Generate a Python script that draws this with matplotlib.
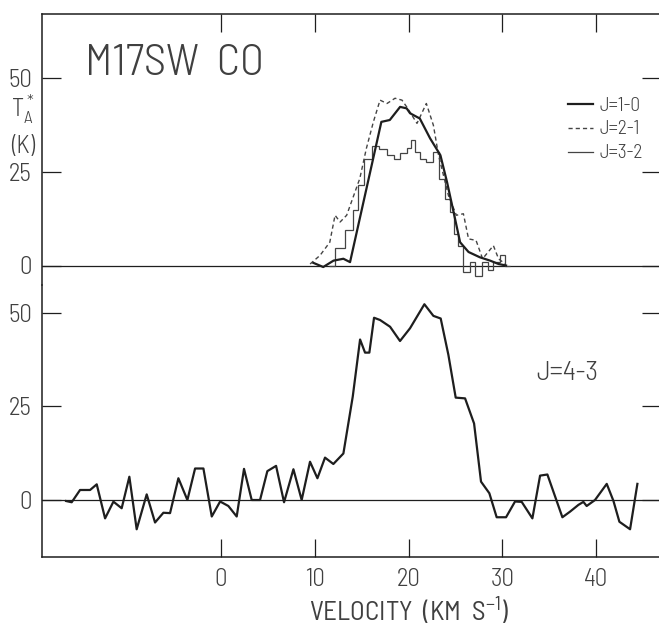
import matplotlib
matplotlib.use("Agg")
import matplotlib.pyplot as plt

# ---------------- data ----------------
v10 = [9.85, 10.9, 12.0, 13.05, 13.76, 17.1, 18.0, 19.1, 19.8, 20.16, 21.2, 22.3, 23.4, 24.1, 24.8, 25.5, 26.4, 27.6, 28.7, 29.6, 30.4]
t10 = [0.7, -0.4, 1.3, 1.8, 0.9, 38.3, 38.8, 42.3, 41.9, 40.6, 39.2, 33.9, 29.4, 22.3, 14.3, 6.2, 3.6, 2.2, 1.3, 0.4, 0.0]

v21 = [9.5, 10.56, 11.6, 12.16, 12.7, 13.4, 14.1, 14.8, 15.5, 16.25, 16.96, 17.7, 18.56, 19.3, 19.8, 20.9, 21.9, 22.65, 23.2, 24.25, 25.1, 25.85, 26.4, 27.2, 27.9, 29.05, 29.6, 30.3]
t21 = [0.4, 2.7, 6.2, 13.4, 11.6, 13.4, 18.3, 23.2, 31.2, 38.3, 44.1, 43.2, 44.6, 44.1, 42.3, 37.9, 43.2, 37.4, 29.4, 18.7, 13.4, 13.8, 7.1, 6.7, 1.8, 5.3, 1.8, 0.4]

e32 = [11.5, 12.2, 13.2, 14.1, 14.65, 15.2, 16.05, 16.9, 17.7, 18.4, 19.1, 19.8, 20.3, 20.7, 21.2, 21.9, 22.65, 23.2, 23.9, 24.4, 24.8, 25.3, 25.85, 26.56, 27.1, 27.8, 28.5, 29.05, 29.76, 30.3, 30.8]
t32 = [0.0, 4.6, 9.5, 14.9, 21.4, 28.5, 31.9, 31.2, 29.4, 28.5, 29.9, 31.4, 33.4, 30.3, 28.5, 27.6, 30.3, 23.2, 17.8, 14.3, 8.5, 5.3, -1.8, 0.9, -2.7, 0.9, -1.3, 0.9, 2.7, 0.0]

v43 = [-16.53, -15.93, -15.04, -13.97, -13.26, -12.37, -11.48, -10.6, -9.78, -9.0, -7.93, -7.04, -6.15, -5.44,
       -4.55, -3.59, -2.77, -1.88, -0.99, -0.1, 0.78, 1.67, 2.45, 3.27, 4.16, 4.94, 5.87, 6.72, 7.72, 8.6,
       9.49, 10.28, 11.09, 11.98, 13.05, 14.05, 14.83, 15.36, 15.82, 16.32, 16.96, 18.03, 19.09, 20.16,
       21.69, 22.65, 23.43, 24.25, 25.03, 26.03, 26.99, 27.73, 28.62, 29.4, 30.4, 31.36, 32.07, 33.21,
       34.03, 34.81, 36.41, 37.23, 38.12, 38.65, 39.0, 39.89, 41.14, 41.85, 42.49, 43.63, 44.41]
t43 = [-0.27, -0.6, 2.67, 2.67, 4.18, -4.9, -0.44, -2.2, 6.2, -7.8, 1.5, -6.0, -3.4, -3.5,
       5.8, 0.0, 8.4, 8.4, -4.4, -0.4, -1.6, -4.4, 8.3, 0.0, 0.0, 7.7, 9.1, -0.6, 8.2, 0.0,
       10.2, 5.8, 11.3, 9.6, 12.4, 27.6, 42.8, 39.3, 39.3, 48.6, 48.0, 46.2, 42.4, 45.8,
       52.2, 49.1, 48.4, 38.7, 27.3, 27.1, 20.4, 4.9, 1.8, -4.6, -4.6, -0.4, -0.5, -4.9,
       6.5, 6.8, -4.6, -3.1, -1.3, -0.5, -1.6, 0.0, 4.3, -0.2, -5.8, -7.8, 4.3]

xticks = [0, 10, 20, 30, 40]
yticks = [0, 25, 50]
legend_labels = ["J=1-0", "J=2-1", "J=3-2"]

# ---------------- style ----------------
FAM = ["Barlow Semi Condensed", "Barlow Condensed", "DejaVu Sans"]
plt.rcParams["font.family"] = FAM
plt.rcParams["font.weight"] = 300
plt.rcParams["mathtext.default"] = "regular"
TXT = "#404040"
LN = "#1e1e1e"

W, H = 659, 627
fig = plt.figure(figsize=(W / 100, H / 100), dpi=100)

def fx(px):
    return px / W

def fy(py):
    return 1 - py / H

left_px, right_px = 41.7, 661
split_px, top_px, bot_px = 285, 14, 556.7
axT = fig.add_axes([fx(left_px), fy(split_px), fx(right_px - left_px), (split_px - top_px) / H])
axB = fig.add_axes([fx(left_px), fy(bot_px), fx(right_px - left_px), (bot_px - split_px) / H])

xl = (-19.13, -19.13 + (right_px - left_px) / 9.375)
axT.set_xlim(xl)
axB.set_xlim(xl)
axT.set_ylim(-(split_px - 265.5) / 3.75, (265.5 - top_px) / 3.75)
axB.set_ylim(-(bot_px - 500) / 3.75, (500 - split_px) / 3.75)

for ax in (axT, axB):
    ax.set_facecolor("none")
    for s in ax.spines.values():
        s.set_linewidth(1.1)
        s.set_color(LN)
    ax.spines["right"].set_visible(False)
    ax.axhline(0, color=LN, lw=0.9, zorder=1)
    ax.set_yticks(yticks)
    ax.set_yticklabels([str(t) for t in yticks], fontsize=18, color=TXT)
    ax.tick_params(axis="y", which="both", direction="in", length=14, width=0.9, color=LN,
                   left=True, right=True, pad=7)
    ax.set_xticks(xticks)

axT.spines["bottom"].set_visible(False)
axB.spines["top"].set_visible(False)
axT.tick_params(axis="x", direction="in", length=13, width=0.9, color=LN, top=True, bottom=False,
                labeltop=False, labelbottom=False)
axB.tick_params(axis="x", direction="in", length=13, width=0.9, color=LN, top=False, bottom=True,
                labelbottom=True, pad=8, labelsize=18, labelcolor=TXT)
axB.set_xticklabels([str(t) for t in xticks])

# ---------------- top panel ----------------
axT.plot(v10, t10, color=LN, lw=1.6, label=legend_labels[0], zorder=4)
axT.plot(v21, t21, color="#444444", lw=1.0, ls=(0, (3, 2.2)), label=legend_labels[1], zorder=3)
axT.stairs(t32, e32, color="#444444", lw=0.9, label=legend_labels[2], baseline=None, zorder=3)

leg = axT.legend(loc="upper right", bbox_to_anchor=((643 - left_px) / (right_px - left_px), 0.695),
                 frameon=False, fontsize=14, handlelength=1.3, handletextpad=0.35, labelspacing=0.3,
                 borderaxespad=0, borderpad=0)
for t in leg.get_texts():
    t.set_color(TXT)

axT.text((85 - left_px) / (right_px - left_px), (split_px - 64) / (split_px - top_px), "M17SW  CO",
         transform=axT.transAxes, fontsize=32, color=TXT, ha="left", va="center")

fig.text(fx(23), fy(109), r"$\mathregular{T_A^*}$", fontsize=18, color=TXT, ha="center", va="center")
fig.text(fx(23), fy(146), "(K)", fontsize=18, color=TXT, ha="center", va="center")

# ---------------- bottom panel ----------------
axB.plot(v43, t43, color=LN, lw=1.6, zorder=4)
axB.text(36.9, 34, "J=4-3", fontsize=20, color=TXT, ha="center", va="center")
axB.set_xlabel(r"VELOCITY  (KM  $\mathregular{S^{-1}}$)", fontsize=19.5, color=TXT)
axB.xaxis.set_label_coords((409 - left_px) / (right_px - left_px), -(611 - bot_px) / (bot_px - split_px))
axB.xaxis.label.set_verticalalignment("center")

fig.savefig("out.png", dpi=100)
